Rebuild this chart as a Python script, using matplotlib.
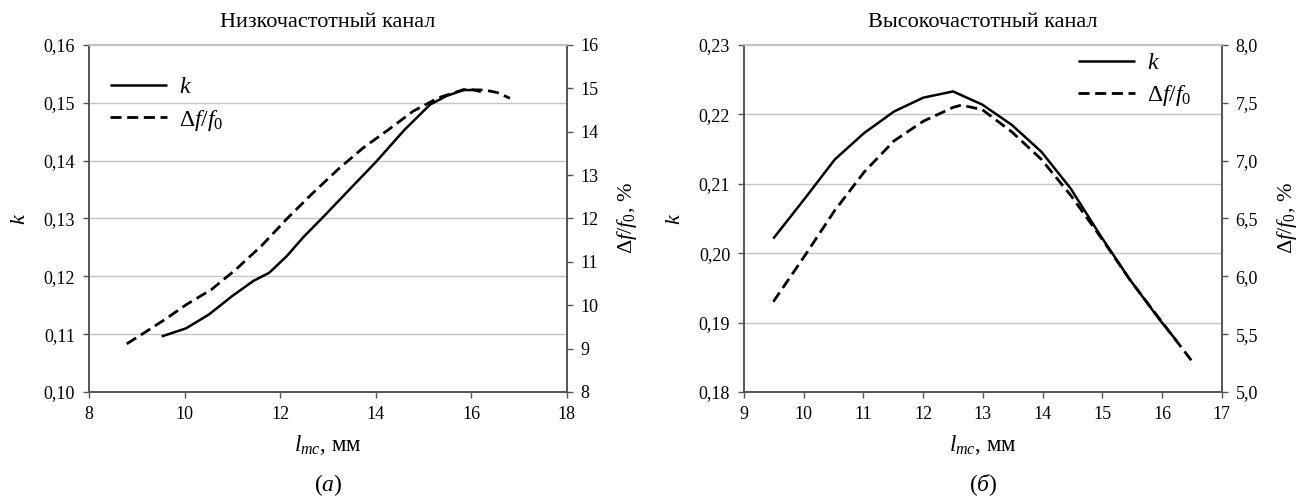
import matplotlib.pyplot as plt
from matplotlib.ticker import FuncFormatter, MultipleLocator

plt.rcParams['font.family'] = 'serif'
plt.rcParams['font.serif'] = ['Liberation Serif', 'DejaVu Serif']
plt.rcParams['mathtext.fontset'] = 'custom'
plt.rcParams['mathtext.rm'] = 'Liberation Serif'
plt.rcParams['mathtext.it'] = 'Liberation Serif:italic'

# --- data: low-frequency channel (a) ---
lf_k_x = [9.52, 10.03, 10.51, 11.0, 11.44, 11.77, 12.14, 12.49, 12.93, 13.37,
          14.02, 14.6, 15.14, 15.49, 15.84, 16.05, 16.2]
lf_k = [0.1096, 0.1110, 0.1134, 0.1166, 0.1192, 0.1206, 0.1235, 0.1268, 0.1305,
        0.1343, 0.1399, 0.1453, 0.1497, 0.1512, 0.1522, 0.1522, 0.1519]
lf_df_x = [8.79, 9.15, 9.6, 10.03, 10.56, 11.08, 11.61, 12.14, 12.67, 13.2, 13.73,
           14.26, 14.78, 15.31, 15.84, 16.28, 16.55, 16.81]
lf_df = [9.11, 9.36, 9.68, 10.01, 10.36, 10.83, 11.37, 11.99, 12.57, 13.12, 13.62,
         14.04, 14.47, 14.78, 14.97, 14.96, 14.9, 14.77]

# --- data: high-frequency channel (б) ---
hf_k_x = [9.49, 10.02, 10.52, 11.01, 11.51, 12.0, 12.5, 12.99, 13.48, 13.98,
          14.47, 14.97, 15.46, 15.96, 16.25]
hf_k = [0.2021, 0.2079, 0.2135, 0.2173, 0.2204, 0.2224, 0.2233, 0.2214, 0.2185,
        0.2146, 0.2093, 0.2025, 0.1962, 0.1904, 0.1873]
hf_df_x = [9.49, 10.02, 10.52, 11.01, 11.51, 12.0, 12.5, 12.64, 12.99, 13.48,
           13.98, 14.47, 14.97, 15.46, 15.96, 16.51]
hf_df = [5.78, 6.18, 6.57, 6.90, 7.17, 7.34, 7.46, 7.48, 7.44, 7.25, 7.01, 6.70,
         6.34, 5.97, 5.63, 5.26]

panels = [
    dict(title='Низкочастотный канал', tag='($а$)', left=0.068,
         kx=lf_k_x, k=lf_k, dx=lf_df_x, d=lf_df,
         xlim=(8, 18), xstep=2, klim=(0.10, 0.16), dlim=(8, 16), dstep=1, dfmt='{:.0f}',
         leg_loc=(0.0, 0.97)),
    dict(title='Высокочастотный канал', tag='($б$)', left=0.5684,
         kx=hf_k_x, k=hf_k, dx=hf_df_x, d=hf_df,
         xlim=(9, 17), xstep=1, klim=(0.18, 0.23), dlim=(5, 8), dstep=0.5, dfmt='{:.1f}',
         leg_loc=(0.655, 1.04)),
]

fig = plt.figure(figsize=(13.09, 5.03), dpi=100)
spine_col = '#555555'
grid_col = '#c4c4c4'

for p in panels:
    ax = fig.add_axes([p['left'], 0.2207, 0.365, 0.690])
    ax2 = ax.twinx()

    l1, = ax.plot(p['kx'], p['k'], color='black', lw=1.8, solid_capstyle='butt')
    l2, = ax2.plot(p['dx'], p['d'], color='black', lw=2.0, linestyle=(0, (4, 2)))

    ax.set_xlim(*p['xlim'])
    ax.set_ylim(*p['klim'])
    ax2.set_ylim(*p['dlim'])
    ax.xaxis.set_major_locator(MultipleLocator(p['xstep']))
    ax.yaxis.set_major_locator(MultipleLocator(0.01))
    ax2.yaxis.set_major_locator(MultipleLocator(p['dstep']))
    ax.yaxis.set_major_formatter(FuncFormatter(lambda v, pos: f'{v:.2f}'.replace('.', ',')))
    fmt = p['dfmt']
    ax2.yaxis.set_major_formatter(FuncFormatter(lambda v, pos, fmt=fmt: fmt.format(v).replace('.', ',')))

    ax.grid(axis='y', color=grid_col, lw=1)
    ax.set_axisbelow(True)
    for a in (ax, ax2):
        for s in a.spines.values():
            s.set_color(spine_col)
            s.set_linewidth(1.2)
        a.spines['top'].set_color(grid_col)
        a.tick_params(direction='out', length=4, width=1, color=spine_col,
                      labelsize=13, pad=6)

    ax.set_title(p['title'], fontsize=16, pad=13)
    ax.set_xlabel('$l_{mc}$, мм', fontsize=16.5, labelpad=7)
    ax.set_ylabel('$k$', fontsize=16, labelpad=10)
    ax2.set_ylabel(r'$\Delta f/f_0$, %', fontsize=16, labelpad=12)
    ax.text(0.5, -0.268, p['tag'], transform=ax.transAxes, ha='center', va='center', fontsize=17)

    leg = ax2.legend([l1, l2], ['$k$', r'$\Delta f/f_0$'], loc='upper left',
                     bbox_to_anchor=p['leg_loc'], frameon=False, fontsize=17,
                     handlelength=2.4, handletextpad=0.5, labelspacing=0.4)

fig.savefig('out.png', dpi=100)
